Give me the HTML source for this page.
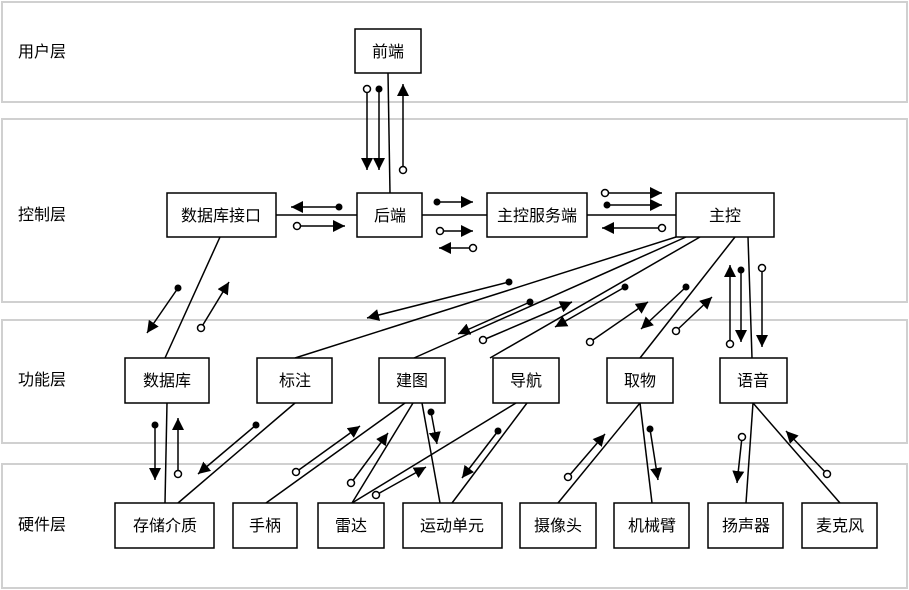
<!DOCTYPE html>
<html><head><meta charset="utf-8"><style>
body{margin:0;background:#fff;}
svg{display:block;}
text{font-family:"Liberation Sans","Noto Sans CJK SC",sans-serif;font-size:16px;fill:#000;}
</style></head><body>
<svg width="909" height="590" viewBox="0 0 909 590" xmlns="http://www.w3.org/2000/svg">
<defs>
<marker id="a" viewBox="0 0 10 10" refX="10" refY="5" markerWidth="12" markerHeight="12" markerUnits="userSpaceOnUse" orient="auto"><path d="M0,0 L10,5 L0,10 z" fill="#000"/></marker>
</defs>
<g fill="#fff" stroke="#d0d0d0" stroke-width="2">
<rect x="2" y="2" width="905" height="100"/>
<rect x="2" y="119" width="905" height="183"/>
<rect x="2" y="320" width="905" height="123"/>
<rect x="2" y="464" width="905" height="124"/>
</g>
<g>
<text x="18" y="57">用户层</text>
<text x="18" y="220">控制层</text>
<text x="18" y="385">功能层</text>
<text x="18" y="530">硬件层</text>
</g>
<g stroke="#000" stroke-width="1.5" fill="none">
<line x1="388" y1="73" x2="390" y2="193"/>
<line x1="276" y1="215" x2="357" y2="215"/>
<line x1="422" y1="215" x2="487" y2="215"/>
<line x1="587" y1="215" x2="676" y2="215"/>
<line x1="220" y1="237" x2="165" y2="358"/>
<line x1="676" y1="237" x2="295" y2="358"/>
<line x1="686" y1="237" x2="414" y2="358"/>
<line x1="700" y1="237" x2="490" y2="358"/>
<line x1="735" y1="237" x2="640" y2="358"/>
<line x1="748" y1="237" x2="752" y2="358"/>
<line x1="167" y1="403" x2="165" y2="503"/>
<line x1="295" y1="403" x2="178" y2="503"/>
<line x1="405" y1="403" x2="266" y2="503"/>
<line x1="413" y1="403" x2="352" y2="503"/>
<line x1="422" y1="403" x2="440" y2="503"/>
<line x1="516" y1="403" x2="352" y2="503"/>
<line x1="527" y1="403" x2="452" y2="503"/>
<line x1="640" y1="403" x2="558" y2="503"/>
<line x1="640" y1="403" x2="652" y2="503"/>
<line x1="753" y1="403" x2="746" y2="503"/>
<line x1="753" y1="403" x2="840" y2="503"/>
</g>
<g stroke="#000" stroke-width="1.5" fill="#fff">
<rect x="355" y="29" width="66" height="44"/>
<rect x="167" y="193" width="109" height="44"/>
<rect x="357" y="193" width="65" height="44"/>
<rect x="487" y="193" width="100" height="44"/>
<rect x="676" y="193" width="98" height="44"/>
<rect x="125" y="358" width="84" height="45"/>
<rect x="257" y="358" width="75" height="45"/>
<rect x="379" y="358" width="66" height="45"/>
<rect x="493" y="358" width="66" height="45"/>
<rect x="607" y="358" width="66" height="45"/>
<rect x="720" y="358" width="67" height="45"/>
<rect x="115" y="503" width="99" height="45"/>
<rect x="233" y="503" width="64" height="45"/>
<rect x="318" y="503" width="66" height="45"/>
<rect x="403" y="503" width="99" height="45"/>
<rect x="520" y="503" width="76" height="45"/>
<rect x="614" y="503" width="75" height="45"/>
<rect x="708" y="503" width="75" height="45"/>
<rect x="802" y="503" width="75" height="45"/>
</g>
<g text-anchor="middle">
<text x="388" y="57">前端</text>
<text x="221" y="221">数据库接口</text>
<text x="390" y="221">后端</text>
<text x="537" y="221">主控服务端</text>
<text x="725" y="221">主控</text>
<text x="167" y="386">数据库</text>
<text x="295" y="386">标注</text>
<text x="412" y="386">建图</text>
<text x="526" y="386">导航</text>
<text x="640" y="386">取物</text>
<text x="753" y="386">语音</text>
<text x="165" y="531">存储介质</text>
<text x="265" y="531">手柄</text>
<text x="351" y="531">雷达</text>
<text x="452" y="531">运动单元</text>
<text x="558" y="531">摄像头</text>
<text x="652" y="531">机械臂</text>
<text x="746" y="531">扬声器</text>
<text x="840" y="531">麦克风</text>
</g>
<g stroke="#000" stroke-width="1.5" marker-end="url(#a)">
<line x1="367" y1="89" x2="367" y2="170"/>
<line x1="379" y1="89" x2="379" y2="170"/>
<line x1="403" y1="170" x2="403" y2="84"/>
<line x1="339" y1="207" x2="291" y2="207"/>
<line x1="297" y1="226" x2="345" y2="226"/>
<line x1="437" y1="202" x2="473" y2="202"/>
<line x1="440" y1="231" x2="473" y2="231"/>
<line x1="473" y1="248" x2="439" y2="248"/>
<line x1="605" y1="193" x2="662" y2="193"/>
<line x1="607" y1="205" x2="662" y2="205"/>
<line x1="662" y1="228" x2="602" y2="228"/>
<line x1="178" y1="288" x2="147" y2="333"/>
<line x1="201" y1="328" x2="229" y2="282"/>
<line x1="509" y1="282" x2="367" y2="318"/>
<line x1="530" y1="302" x2="458" y2="334"/>
<line x1="483" y1="340" x2="572" y2="302"/>
<line x1="625" y1="287" x2="555" y2="327"/>
<line x1="590" y1="342" x2="648" y2="302"/>
<line x1="686" y1="287" x2="641" y2="329"/>
<line x1="676" y1="331" x2="712" y2="297"/>
<line x1="730" y1="344" x2="730" y2="265"/>
<line x1="741" y1="270" x2="741" y2="342"/>
<line x1="762" y1="268" x2="762" y2="347"/>
<line x1="155" y1="425" x2="155" y2="480"/>
<line x1="178" y1="474" x2="178" y2="418"/>
<line x1="256" y1="425" x2="198" y2="474"/>
<line x1="296" y1="472" x2="360" y2="426"/>
<line x1="351" y1="483" x2="388" y2="433"/>
<line x1="431" y1="412" x2="437" y2="444"/>
<line x1="376" y1="495" x2="426" y2="467"/>
<line x1="498" y1="431" x2="462" y2="478"/>
<line x1="568" y1="477" x2="605" y2="434"/>
<line x1="650" y1="429" x2="658" y2="480"/>
<line x1="742" y1="437" x2="737" y2="483"/>
<line x1="827" y1="474" x2="786" y2="431"/>
</g>
<g stroke="#000" stroke-width="1.5" fill="#fff">
<circle cx="367" cy="89" r="3.5"/>
<circle cx="403" cy="170" r="3.5"/>
<circle cx="297" cy="226" r="3.5"/>
<circle cx="440" cy="231" r="3.5"/>
<circle cx="473" cy="248" r="3.5"/>
<circle cx="605" cy="193" r="3.5"/>
<circle cx="662" cy="228" r="3.5"/>
<circle cx="201" cy="328" r="3.5"/>
<circle cx="483" cy="340" r="3.5"/>
<circle cx="590" cy="342" r="3.5"/>
<circle cx="676" cy="331" r="3.5"/>
<circle cx="730" cy="344" r="3.5"/>
<circle cx="762" cy="268" r="3.5"/>
<circle cx="178" cy="474" r="3.5"/>
<circle cx="296" cy="472" r="3.5"/>
<circle cx="351" cy="483" r="3.5"/>
<circle cx="376" cy="495" r="3.5"/>
<circle cx="568" cy="477" r="3.5"/>
<circle cx="742" cy="437" r="3.5"/>
<circle cx="827" cy="474" r="3.5"/>
</g>
<g fill="#000">
<circle cx="379" cy="89" r="3.5"/>
<circle cx="339" cy="207" r="3.5"/>
<circle cx="437" cy="202" r="3.5"/>
<circle cx="607" cy="205" r="3.5"/>
<circle cx="178" cy="288" r="3.5"/>
<circle cx="509" cy="282" r="3.5"/>
<circle cx="530" cy="302" r="3.5"/>
<circle cx="625" cy="287" r="3.5"/>
<circle cx="686" cy="287" r="3.5"/>
<circle cx="741" cy="270" r="3.5"/>
<circle cx="155" cy="425" r="3.5"/>
<circle cx="256" cy="425" r="3.5"/>
<circle cx="431" cy="412" r="3.5"/>
<circle cx="498" cy="431" r="3.5"/>
<circle cx="650" cy="429" r="3.5"/>
</g>
</svg>
</body></html>
